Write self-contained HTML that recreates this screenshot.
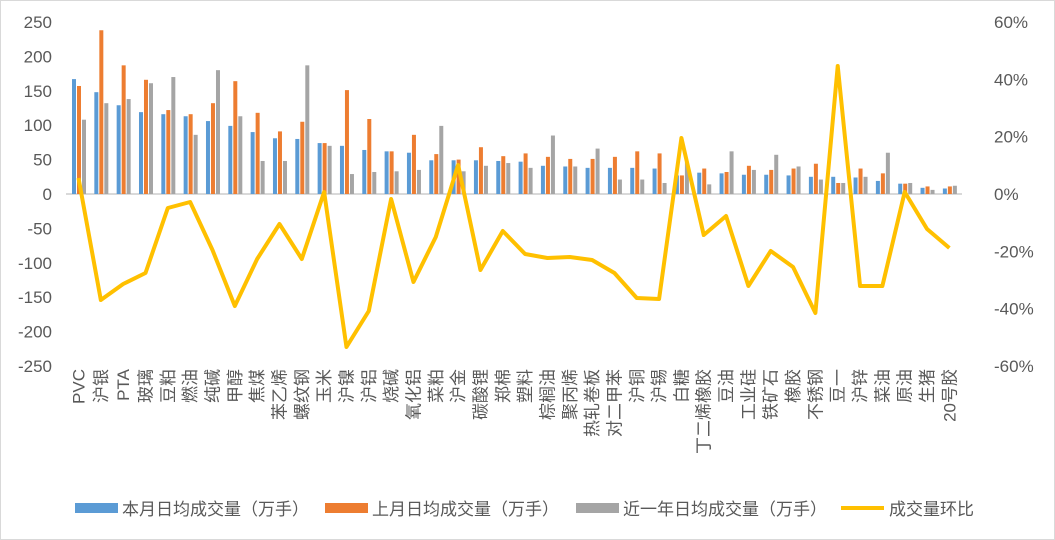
<!DOCTYPE html>
<html><head><meta charset="utf-8"><style>
html,body{margin:0;padding:0;background:#fff;}
svg{display:block;font-family:"Liberation Sans","Noto Sans CJK SC",sans-serif;}
</style></head><body>
<svg id="s" width="1055" height="540" viewBox="0 0 1055 540" xmlns="http://www.w3.org/2000/svg">
<rect x="0.5" y="0.5" width="1054" height="539" fill="#fff" stroke="#d9d9d9"/>
<g id="g"></g>
</svg>
<script>
var names=["PVC","沪银","PTA","玻璃","豆粕","燃油","纯碱","甲醇","焦煤","苯乙烯","螺纹钢","玉米","沪镍","沪铝","烧碱","氧化铝","菜粕","沪金","碳酸锂","郑棉","塑料","棕榈油","聚丙烯","热轧卷板","对二甲苯","沪铜","沪锡","白糖","丁二烯橡胶","豆油","工业硅","铁矿石","橡胶","不锈钢","豆一","沪锌","菜油","原油","生猪","20号胶"];
var a=[167,148,129,119,116,113,106,99,90,81,80,74,70,64,62,60,49,49,49,48,47,41,40,38,38,38,37,27,31,30,28,28,27,25,25,24,19,15,9,8];
var b=[157,238,187,166,122,116,132,164,118,91,105,74,151,109,62,86,58,50,68,55,59,54,51,51,54,62,59,27,37,32,41,35,37,44,16,37,30,15,11,11];
var c=[108,132,138,161,170,86,180,113,48,48,187,70,29,32,33,35,99,33,41,45,38,85,40,66,21,21,16,47,14,62,35,57,40,21,16,25,60,16,6,12];
var ly=[178,300,284,273,208,202,250,306,259,224,259,192,347,311,199,282,237,165,270,231,254,258,257,260,273,298,299,138,235,216,286,251,267,313,66,286,286,192,229,248];
var h='',z=194,k=0.688;
function Y(v){return z-v*k;}
for(var i=0;i<11;i++){var v=250-i*50,y=Y(v);
 h+='<text x="52" y="'+(y+6)+'" text-anchor="end" font-size="17" fill="#595959">'+v+'</text>';}
for(var i=0;i<7;i++){var p=60-i*20,y=z-p*2.867;
 h+='<text x="994" y="'+(y+6)+'" font-size="17" fill="#595959">'+p+'%</text>';}
h+='<line x1="66" y1="194" x2="962" y2="194" stroke="#d9d9d9" stroke-width="2"/>';
var pts=[];
for(var i=0;i<40;i++){var cx=78.5+i*22.33;
 h+='<rect x="'+(cx-6.5)+'" y="'+Y(a[i])+'" width="4" height="'+(a[i]*k)+'" fill="#5b9bd5"/>';
 h+='<rect x="'+(cx-1.5)+'" y="'+Y(b[i])+'" width="4" height="'+(b[i]*k)+'" fill="#ed7d31"/>';
 h+='<rect x="'+(cx+3.5)+'" y="'+Y(c[i])+'" width="4" height="'+(c[i]*k)+'" fill="#a5a5a5"/>';
 pts.push(cx+','+ly[i]);
 h+='<text transform="translate('+(cx+6)+',369) rotate(-90)" text-anchor="end" font-size="17" fill="#595959">'+names[i]+'</text>';
}
h+='<polyline points="'+pts.join(' ')+'" fill="none" stroke="#ffc000" stroke-width="4" stroke-linejoin="round"/>';
var L=[["#5b9bd5","本月日均成交量（万手）",75],["#ed7d31","上月日均成交量（万手）",325],["#a5a5a5","近一年日均成交量（万手）",576]];
for(var i=0;i<3;i++){h+='<rect x="'+L[i][2]+'" y="503" width="43" height="10" fill="'+L[i][0]+'"/><text x="'+(L[i][2]+47)+'" y="515" font-size="17" fill="#595959">'+L[i][1]+'</text>';}
h+='<line x1="841" y1="508" x2="884" y2="508" stroke="#ffc000" stroke-width="4"/><text x="889" y="515" font-size="17" fill="#595959">成交量环比</text>';
document.getElementById('g').innerHTML=h;
</script>
</body></html>
